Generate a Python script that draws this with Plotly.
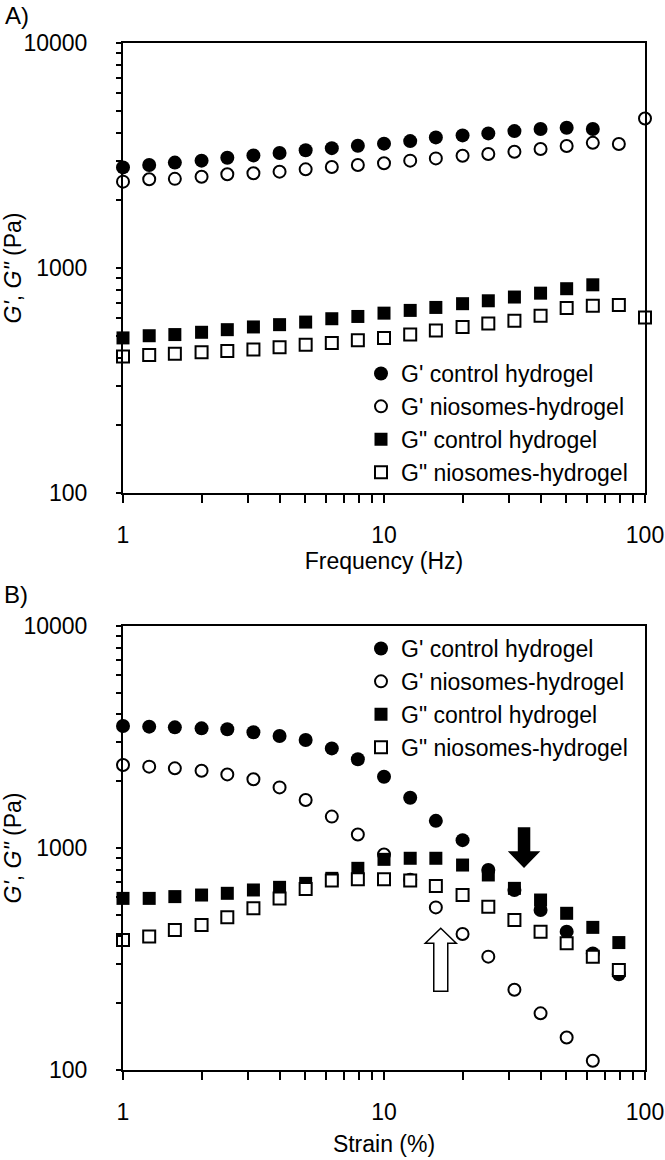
import plotly.graph_objects as go

# ---------------- data ----------------
freq = [1, 1.26, 1.58, 2, 2.51, 3.16, 3.98, 5.01, 6.31, 7.94, 10, 12.6, 15.8,
        20, 25.1, 31.6, 39.8, 50.1, 63.1, 79.4, 100]
a_gp_control = [2800, 2870, 2940, 3000, 3090, 3165, 3245, 3335, 3410, 3495, 3570,
                3665, 3805, 3885, 3965, 4060, 4145, 4200, 4145]
a_gp_nio = [2420, 2480, 2490, 2545, 2610, 2635, 2680, 2745, 2810, 2870, 2920, 3000,
            3070, 3155, 3210, 3285, 3380, 3485, 3600, 3555, 4620]
a_gpp_control = [489, 500, 506, 518, 532, 547, 560, 575, 595, 609, 630, 648, 668,
                 694, 715, 743, 773, 809, 842]
a_gpp_nio = [404, 410, 416, 422, 428, 434, 444, 456, 464, 477, 489, 506, 527, 547,
             566, 583, 614, 664, 680, 684, 603]

strain = [1, 1.26, 1.58, 2, 2.51, 3.16, 3.98, 5.01, 6.31, 7.94, 10, 12.6, 15.8,
          20, 25.1, 31.6, 39.8, 50.1, 63.1, 79.4]
b_gp_control = [3545, 3520, 3495, 3460, 3425, 3320, 3195, 3065, 2810, 2510, 2095,
                1685, 1325, 1085, 796, 647, 526, 420, 335, 270]
b_gp_nio = [2365, 2325, 2285, 2230, 2145, 2040, 1875, 1645, 1385, 1150, 935, 720,
            540, 410, 324, 230, 180, 140, 110]
b_gpp_control = [593, 593, 604, 614, 625, 647, 665, 693, 730, 810, 889, 899, 899,
                 838, 756, 658, 583, 508, 439, 375]
b_gpp_nio = [385, 399, 427, 450, 487, 535, 593, 654, 713, 723, 723, 713, 674, 614,
             544, 474, 420, 372, 324, 282]

names = ["G' control hydrogel", "G' niosomes-hydrogel",
         "G\" control hydrogel", "G\" niosomes-hydrogel"]
y_ticks = [100, 1000, 10000]
x_ticks = [1, 10, 100]
y_minor = [m * 10 ** e for e in (2, 3) for m in range(2, 10)]
x_minor = [m * 10 ** e for e in (0, 1) for m in range(2, 10)]

# arrows (strain, modulus at the arrow tip)
arrow_down = (34.4, 821)
arrow_up = (16.5, 435)

# ---------------- figure ----------------
W, H = 665, 1160
FONT = "Liberation Sans, Arial, sans-serif"
FS = 23


def X(px):
    return px / W


def Y(py):
    return 1 - py / H


styles = [
    dict(symbol="circle", size=14, color="black", line=dict(color="black", width=0)),
    dict(symbol="circle", size=12, color="white", line=dict(color="black", width=2)),
    dict(symbol="square", size=13, color="black", line=dict(color="black", width=0)),
    dict(symbol="square", size=12, color="white", line=dict(color="black", width=2)),
]

fig = go.Figure()
panels = [
    ("x", "y", "legend", freq,
     [a_gp_control, a_gp_nio, a_gpp_control, a_gpp_nio]),
    ("x2", "y2", "legend2", strain,
     [b_gp_control, b_gp_nio, b_gpp_control, b_gpp_nio]),
]
for xa, ya, lg, xs, ys in panels:
    for i in range(4):
        fig.add_trace(go.Scatter(
            x=xs[:len(ys[i])], y=ys[i], mode="markers", name=names[i],
            marker=styles[i], xaxis=xa, yaxis=ya, legend=lg, cliponaxis=False))

tick_font = dict(family=FONT, size=FS, color="black")
common = dict(
    type="log", showline=True, linecolor="black", linewidth=2, mirror=True,
    showgrid=False, zeroline=False, ticks="outside", tickcolor="black",
    tickwidth=1.5, tickfont=tick_font, range=[0, 2], automargin=False,
)
xminor = dict(tickvals=x_minor, ticks="outside", ticklen=8, tickcolor="black",
              tickwidth=1.5, showgrid=False)
yminor = dict(tickvals=y_minor, ticks="outside", ticklen=5, tickcolor="black",
              tickwidth=1.5, showgrid=False)
ytitle = "<i>G'</i>, <i>G\"</i> (Pa)"
xdom = [X(123), X(645)]

fig.update_layout(
    width=W, height=H, margin=dict(l=0, r=0, t=0, b=0, autoexpand=False),
    paper_bgcolor="white", plot_bgcolor="white", showlegend=True,
    font=dict(family=FONT, size=FS, color="black"),
    xaxis=dict(common, domain=xdom, anchor="y", tickvals=x_ticks,
               ticktext=[str(v) for v in x_ticks], ticklen=8, minor=xminor,
               ticklabelstandoff=12,
               title=dict(text="Frequency (Hz)", standoff=5, font=tick_font)),
    yaxis=dict(common, domain=[Y(493), Y(43)], anchor="x", range=[2, 4],
               tickvals=y_ticks, ticktext=[str(v) for v in y_ticks], ticklen=5,
               minor=yminor, ticklabelstandoff=24,
               title=dict(text=ytitle, standoff=12, font=tick_font)),
    xaxis2=dict(common, domain=xdom, anchor="y2", tickvals=x_ticks,
                ticktext=[str(v) for v in x_ticks], ticklen=8, minor=xminor,
                ticklabelstandoff=12,
                title=dict(text="Strain (%)", standoff=12, font=tick_font)),
    yaxis2=dict(common, domain=[Y(1070), Y(626)], anchor="x2", range=[2, 4],
                tickvals=y_ticks, ticktext=[str(v) for v in y_ticks], ticklen=5,
                minor=yminor, ticklabelstandoff=24,
                title=dict(text=ytitle, standoff=12, font=tick_font)),
    legend=dict(x=X(361), y=Y(352), xanchor="left", yanchor="top",
                bgcolor="rgba(0,0,0,0)", font=tick_font,
                tracegroupgap=0, itemwidth=30),
    legend2=dict(x=X(361), y=Y(627), xanchor="left", yanchor="top",
                 bgcolor="rgba(0,0,0,0)", font=tick_font,
                 tracegroupgap=0, itemwidth=30),
    annotations=[
        dict(text="A)", x=X(3), y=Y(15), xref="paper", yref="paper",
             xanchor="left", yanchor="middle", showarrow=False,
             font=dict(family=FONT, size=24)),
        dict(text="B)", x=X(2), y=Y(594), xref="paper", yref="paper",
             xanchor="left", yanchor="middle", showarrow=False,
             font=dict(family=FONT, size=24)),
    ],
)

# block arrows, anchored in data coordinates, drawn in pixels
down_path = "M 0 0 L -14.5 15 L -5.5 15 L -5.5 39 L 5.5 39 L 5.5 15 L 14.5 15 Z"
up_path = "M 0 0 L -15.5 -15 L -7 -15 L -7 -63 L 7 -63 L 7 -15 L 15.5 -15 Z"
fig.add_shape(type="path", xref="x2", yref="y2", xsizemode="pixel", ysizemode="pixel",
              xanchor=arrow_down[0], yanchor=arrow_down[1], path=down_path,
              fillcolor="black", line=dict(color="black", width=1.5))
fig.add_shape(type="path", xref="x2", yref="y2", xsizemode="pixel", ysizemode="pixel",
              xanchor=arrow_up[0], yanchor=arrow_up[1], path=up_path,
              fillcolor="white", line=dict(color="black", width=1.5))

# the page body's default 8 px margin would shift the figure; remove it
fig.write_html("out.html", config={"displayModeBar": False},
               post_script="document.body.style.margin='0px';"
                           "document.documentElement.style.overflow='hidden';")
